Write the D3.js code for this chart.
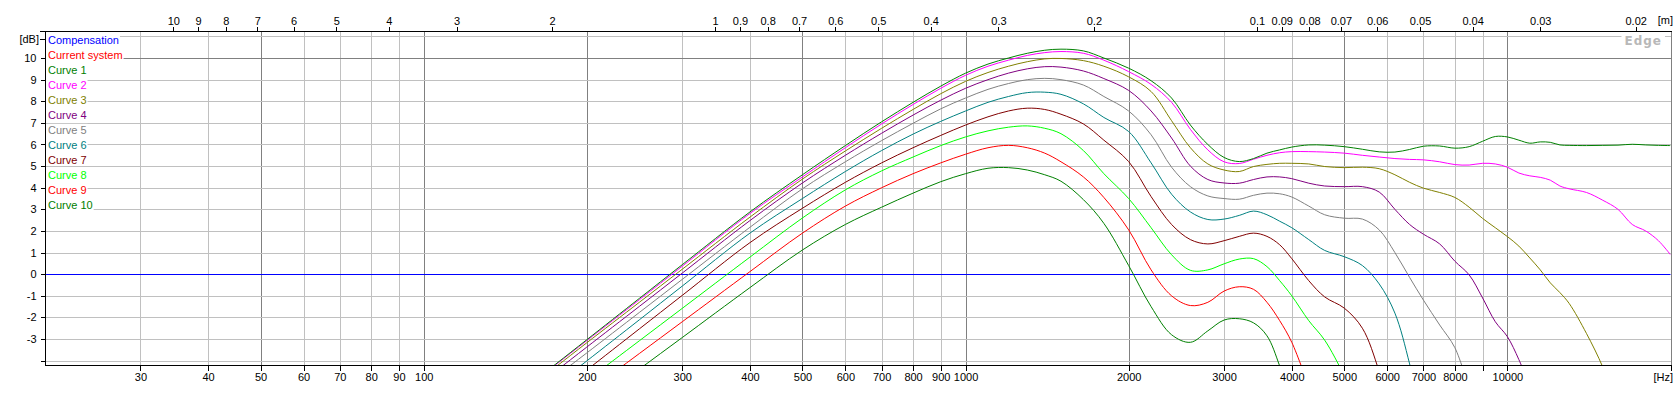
<!DOCTYPE html>
<html>
<head>
<meta charset="utf-8">
<script src="https://cdn.jsdelivr.net/npm/d3@7"></script>
<style>
  html, body { margin: 0; padding: 0; background: #fff; }
  svg { display: block; }
  text { font-family: "Liberation Sans", Arial, sans-serif; font-size: 11px; }
</style>
</head>
<body>
<svg id="chart" width="1674" height="397"></svg>
<script>
// ---------------- DATA ----------------
const freqs = [150, 175, 200, 250, 300, 400, 500, 600, 700, 800, 900, 1000, 1100, 1200, 1300, 1400, 1500, 1650, 1800, 2000,
  2200, 2400, 2600, 2800, 3000, 3200, 3400, 3600, 3800, 4000, 4300, 4600, 5000, 5400, 5800, 6200, 6600, 7000, 7500,
  8000, 8500, 9000, 9500, 10000, 10500, 11000, 11500, 12000, 12500, 13000, 14000, 15000, 16000, 17000, 18000, 19000, 20000];

const curve1 = [-5.48, -4.17, -3.03, -1.12, 0.44, 2.88, 4.6, 5.95, 7.05, 7.95, 8.7, 9.3, 9.72, 10.0, 10.22, 10.36, 10.41, 10.33, 10.0, 9.53,
  8.95, 8.15, 6.9, 6.0, 5.4, 5.21, 5.35, 5.6, 5.75, 5.88, 5.98, 5.97, 5.9, 5.78, 5.66, 5.65, 5.77, 5.92, 5.93,
  5.83, 5.9, 6.15, 6.37, 6.35, 6.2, 6.06, 6.12, 6.1, 5.98, 5.96, 5.95, 5.96, 5.97, 6.01, 5.98, 5.96, 5.95];
const curve2 = [-5.51, -4.2, -3.07, -1.18, 0.37, 2.81, 4.5, 5.85, 6.95, 7.85, 8.6, 9.2, 9.62, 9.9, 10.12, 10.25, 10.3, 10.22, 9.9, 9.37,
  8.78, 7.95, 6.7, 5.75, 5.2, 5.12, 5.32, 5.5, 5.62, 5.67, 5.67, 5.65, 5.6, 5.5, 5.42, 5.35, 5.31, 5.29, 5.2,
  5.07, 5.05, 5.13, 5.1, 4.95, 4.68, 4.55, 4.48, 4.35, 4.08, 3.95, 3.78, 3.42, 3.0, 2.3, 2.0, 1.55, 0.9];
const curve3 = [-5.59, -4.30, -3.17, -1.30, 0.23, 2.64, 4.4, 5.7, 6.75, 7.62, 8.35, 8.92, 9.33, 9.62, 9.83, 9.96, 9.98, 9.88, 9.62, 9.13,
  8.45, 7.1, 5.85, 5.1, 4.82, 4.75, 4.98, 5.08, 5.13, 5.13, 5.1, 4.98, 4.93, 4.95, 4.88, 4.6, 4.25, 3.98, 3.78,
  3.55, 3.1, 2.58, 2.15, 1.74, 1.3, 0.75, 0.2, -0.4, -0.85, -1.35, -2.75, -4.3, -6.2];
const curve4 = [-5.80, -4.50, -3.37, -1.49, 0.05, 2.48, 4.22, 5.5, 6.52, 7.36, 8.05, 8.6, 9.0, 9.3, 9.5, 9.6, 9.58, 9.4, 9.05, 8.5,
  7.55, 6.3, 5.0, 4.38, 4.22, 4.21, 4.38, 4.5, 4.5, 4.42, 4.21, 4.08, 4.05, 4.05, 3.8, 3.0, 2.3, 1.85, 1.4,
  0.6, -0.03, -1.1, -2.2, -2.89, -3.95, -5.2];
const curve5 = [-6.05, -4.75, -3.64, -1.77, -0.24, 2.17, 3.95, 5.2, 6.18, 6.98, 7.65, 8.15, 8.55, 8.82, 9.0, 9.06, 9.0, 8.75, 8.22, 7.55,
  6.45, 4.95, 4.05, 3.62, 3.5, 3.47, 3.65, 3.75, 3.72, 3.57, 3.15, 2.75, 2.59, 2.55, 2.05, 1.0, -0.15, -1.2, -2.35,
  -3.4, -5.3];
const curve6 = [-6.46, -5.14, -4.01, -2.11, -0.55, 1.9, 3.5, 4.75, 5.72, 6.48, 7.07, 7.55, 7.95, 8.22, 8.4, 8.42, 8.32, 7.88, 7.25, 6.6,
  5.15, 3.7, 2.88, 2.53, 2.55, 2.72, 2.92, 2.75, 2.45, 2.15, 1.6, 1.1, 0.81, 0.4, -0.45, -1.8, -4.15, -7.0];
const curve7 = [-6.87, -5.56, -4.43, -2.53, -0.98, 1.46, 3.05, 4.25, 5.15, 5.85, 6.42, 6.9, 7.28, 7.55, 7.68, 7.62, 7.4, 6.95, 6.2, 5.21,
  3.59, 2.3, 1.6, 1.4, 1.55, 1.75, 1.9, 1.75, 1.36, 0.72, -0.3, -1.05, -1.57, -2.5, -4.5, -7.0];
const curve8 = [-7.30, -6.03, -4.92, -3.08, -1.58, 0.79, 2.6, 3.9, 4.78, 5.42, 5.95, 6.35, 6.63, 6.8, 6.86, 6.75, 6.5, 5.72, 4.65, 3.5,
  2.15, 0.9, 0.18, 0.2, 0.48, 0.7, 0.72, 0.35, -0.3, -1.0, -2.15, -3.05, -4.7, -6.5];
const curve9 = [-7.79, -6.55, -5.47, -3.67, -2.20, 0.12, 1.9, 3.15, 4.0, 4.65, 5.15, 5.55, 5.85, 5.96, 5.85, 5.6, 5.2, 4.5, 3.55, 2.05,
  0.2, -1.0, -1.45, -1.3, -0.78, -0.58, -0.7, -1.3, -2.15, -3.15, -5.2];
const curve10 = [-8.48, -7.25, -6.18, -4.39, -2.93, -0.62, 1.12, 2.3, 3.1, 3.75, 4.28, 4.65, 4.9, 4.93, 4.82, 4.6, 4.3, 3.45, 2.35, 0.4,
  -1.5, -2.8, -3.15, -2.62, -2.12, -2.06, -2.25, -2.85, -4.25, -6.0];

const compensationFreqs = [20, 20000];
const compensationDb = [0, 0];

const seriesNames = ["Compensation", "Current system", "Curve 1", "Curve 2", "Curve 3", "Curve 4", "Curve 5",
  "Curve 6", "Curve 7", "Curve 8", "Curve 9", "Curve 10"];
const seriesColors = ["#0000ff", "#ff0000", "#008000", "#ff00ff", "#808000", "#800080", "#808080",
  "#008080", "#800000", "#00ff00", "#ff0000", "#008000"];
const curves = [curve1, curve2, curve3, curve4, curve5, curve6, curve7, curve8, curve9, curve10];

const hzTicks = [30, 40, 50, 60, 70, 80, 90, 100, 200, 300, 400, 500, 600, 700, 800, 900, 1000,
  2000, 3000, 4000, 5000, 6000, 7000, 8000, 9000, 10000, 20000];
const hzLabels = ["30", "40", "50", "60", "70", "80", "90", "100", "200", "300", "400", "500", "600", "700", "800", "900", "1000",
  "2000", "3000", "4000", "5000", "6000", "7000", "8000", "", "10000", ""];
const hzMajor = [50, 100, 200, 500, 1000, 2000, 5000, 10000, 20000];
const meterTicks = [10, 9, 8, 7, 6, 5, 4, 3, 2, 1, 0.9, 0.8, 0.7, 0.6, 0.5, 0.4, 0.3, 0.2,
  0.1, 0.09, 0.08, 0.07, 0.06, 0.05, 0.04, 0.03, 0.02];
const dbTicks = [-4, -3, -2, -1, 0, 1, 2, 3, 4, 5, 6, 7, 8, 9, 10];
const dbGrid = [-4, -3, -2, -1, 1, 2, 3, 4, 5, 6, 7, 8, 9, 10, 11];
const speedOfSound = 345;

// ---------------- LAYOUT ----------------
const L = 45, R = 1670.5, T = 31, B = 365;
const svg = d3.select("#chart");
const x = d3.scaleLog().domain([20, 20000]).range([L, R]);
const y = d3.scaleLinear().domain([-4.2, 11.25]).range([B, T]);

svg.append("defs").append("clipPath").attr("id", "plotclip")
  .append("rect").attr("x", L).attr("y", T).attr("width", R - L).attr("height", B - T);

// grid
const grid = svg.append("g").attr("shape-rendering", "crispEdges");
grid.selectAll("line.v").data(hzTicks).join("line")
  .attr("x1", d => Math.round(x(d)) + 0.5).attr("x2", d => Math.round(x(d)) + 0.5)
  .attr("y1", T).attr("y2", B)
  .attr("stroke", d => hzMajor.includes(d) ? "#808080" : "#c0c0c0").attr("stroke-width", 1);
grid.selectAll("line.h").data(dbGrid).join("line")
  .attr("x1", L).attr("x2", R)
  .attr("y1", d => Math.round(y(d)) + 0.5).attr("y2", d => Math.round(y(d)) + 0.5)
  .attr("stroke", d => d === 10 ? "#808080" : "#c0c0c0").attr("stroke-width", 1);

// compensation (0 dB)
const plot = svg.append("g").attr("clip-path", "url(#plotclip)");
const line = d3.line().defined(d => d[1] != null)
  .x(d => x(d[0])).y(d => y(d[1])).curve(d3.curveCatmullRom.alpha(0.5));
plot.append("path")
  .datum(compensationFreqs.map((f, i) => [f, compensationDb[i]]))
  .attr("d", d3.line().x(d => x(d[0])).y(d => Math.round(y(d[1])) + 0.5))
  .attr("fill", "none").attr("stroke", seriesColors[0]).attr("stroke-width", 1)
  .attr("shape-rendering", "crispEdges");

// curves (draw lowest first)
for (let i = curves.length - 1; i >= 0; i--) {
  const pts = freqs.map((f, j) => [f, curves[i][j]]).filter(d => d[1] != null);
  plot.append("path")
    .datum(pts)
    .attr("d", line)
    .attr("fill", "none")
    .attr("stroke", seriesColors[i + 2])
    .attr("stroke-width", 1);
}

// axes
const axes = svg.append("g");
const yAxis = d3.axisLeft(y).tickValues(dbTicks).tickSize(5).tickSizeOuter(0).tickPadding(4)
  .tickFormat(d => d === -4 ? "" : String(d));
const gy = axes.append("g").attr("transform", `translate(${L + 0.5},0)`).call(yAxis);
const xAxis = d3.axisBottom(x).tickValues(hzTicks).tickSize(5).tickSizeOuter(0).tickPadding(3)
  .tickFormat((d, i) => hzLabels[i]);
const gx = axes.append("g").attr("transform", `translate(0,${B + 0.5})`).call(xAxis);
const topAxis = d3.axisTop(x).tickValues(meterTicks.map(m => speedOfSound / m)).tickSize(5).tickSizeOuter(0).tickPadding(2)
  .tickFormat((d, i) => String(meterTicks[i]));
const gt = axes.append("g").attr("transform", `translate(0,${T + 0.5})`).call(topAxis);
[gy, gx, gt].forEach(g => {
  g.select(".domain").remove();
  g.selectAll("text").attr("fill", "#000").style("font-family", "'Liberation Sans', Arial, sans-serif").style("font-size", "11px");
  g.selectAll(".tick line").attr("stroke", "#000").attr("shape-rendering", "crispEdges");
});
// axis lines
const al = axes.append("g").attr("stroke", "#000").attr("shape-rendering", "crispEdges");
al.append("line").attr("x1", L + 0.5).attr("x2", L + 0.5).attr("y1", T).attr("y2", B + 1);
al.append("line").attr("x1", L).attr("x2", R + 1).attr("y1", B + 0.5).attr("y2", B + 0.5);
al.append("line").attr("x1", 40).attr("x2", R + 1).attr("y1", T + 0.5).attr("y2", T + 0.5);
al.append("line").attr("x1", 40).attr("x2", L).attr("y1", 39.5).attr("y2", 39.5);

svg.append("text").attr("x", 39).attr("y", 39).attr("dy", "0.35em").attr("text-anchor", "end").text("[dB]");
svg.append("text").attr("x", 1673).attr("y", 381).attr("text-anchor", "end").text("[Hz]");
svg.append("text").attr("x", 1673).attr("y", 24).attr("text-anchor", "end").text("[m]");

// Edge label
const edge = svg.append("g");
const edgeText = edge.append("text").attr("x", 1662).attr("y", 45).attr("text-anchor", "end")
  .style("font-family", "'DejaVu Sans', Verdana, sans-serif").style("font-size", "12px").style("font-weight", "bold")
  .style("letter-spacing", "1px").attr("fill", "#b8b8b8").text("Edge");
const eb = edgeText.node().getBBox();
edge.insert("rect", "text").attr("x", eb.x - 3).attr("y", eb.y).attr("width", eb.width + 6).attr("height", eb.height).attr("fill", "#fff");

// legend
const legend = svg.append("g");
seriesNames.forEach((name, i) => {
  const g = legend.append("g");
  const t = g.append("text").attr("x", 48).attr("y", 40 + i * 15).attr("dy", "0.35em")
    .attr("fill", seriesColors[i]).text(name);
  const bb = t.node().getBBox();
  g.insert("rect", "text").attr("x", 46).attr("y", bb.y).attr("width", bb.width + 3).attr("height", bb.height).attr("fill", "#fff");
});
</script>
</body>
</html>
